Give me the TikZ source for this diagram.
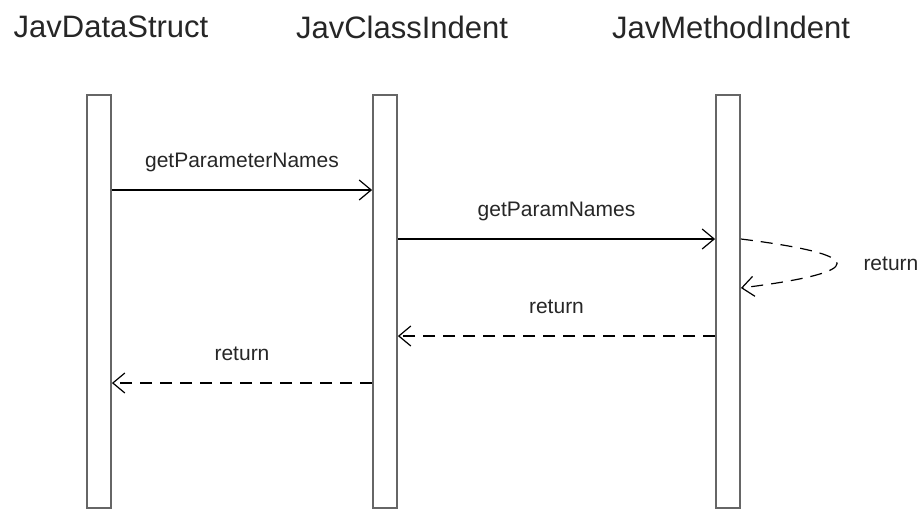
\documentclass[tikz,border=0pt]{standalone}
\usepackage{fontspec}
\setmainfont{Liberation Sans}
\usepackage{tikz}
\usetikzlibrary{arrows.meta,calc}

\begin{document}
\begin{tikzpicture}[
      x=0.5pt, y=-0.5pt,
      >={Straight Barb[length=6pt,width=10pt]}
    ]

    \tikzstyle{headline} = [font=\fontsize{15.5}{18}\selectfont, text=black!85]
    \tikzstyle{lifeline} = [rectangle, anchor=north, minimum width=12pt, minimum height=206.5pt, draw=black!60, line width=0.9pt, fill=white]
    \tikzstyle{call} = [->, line width=0.6pt]
    \tikzstyle{reply} = [->, line width=0.6pt, dash pattern=on 6pt off 4pt]
    \tikzstyle{msg} = [font=\fontsize{10.5}{12}\selectfont, text=black!85, inner sep=0pt]

    \useasboundingbox (0,0) rectangle (918,509);

    \node [headline] (dataStruct) at (111,27) {JavDataStruct};
    \node [headline] (classIndent) at (402,27) {JavClassIndent};
    \node [headline] (methodIndent) at (731,27) {JavMethodIndent};

    \node [lifeline] (dataBar) at (99,94) {};
    \node [lifeline] (classBar) at (385,94) {};
    \node [lifeline] (methodBar) at (728,94) {};

    % calls
    \draw [call] ($(dataBar.north east)+(0,96)$) -- node [msg, above=9pt] {getParameterNames} ($(classBar.north west)+(0,96)$);
    \draw [call] ($(classBar.north east)+(0,145)$) -- node [msg, above=9pt] {getParamNames} ($(methodBar.north west)+(0,145)$);

    % returns
    \draw [reply] ($(methodBar.north east)+(0,145)$) .. controls +(128,16) and +(128,-16) .. node [msg, pos=0.5, right=13pt] {return} ($(methodBar.north east)+(0,194)$);
    \draw [reply] ($(methodBar.north west)+(0,242)$) -- node [msg, above=11pt] {return} ($(classBar.north east)+(0,242)$);
    \draw [reply] ($(classBar.north west)+(0,289)$) -- node [msg, above=11pt] {return} ($(dataBar.north east)+(0,289)$);

\end{tikzpicture}
\end{document}
